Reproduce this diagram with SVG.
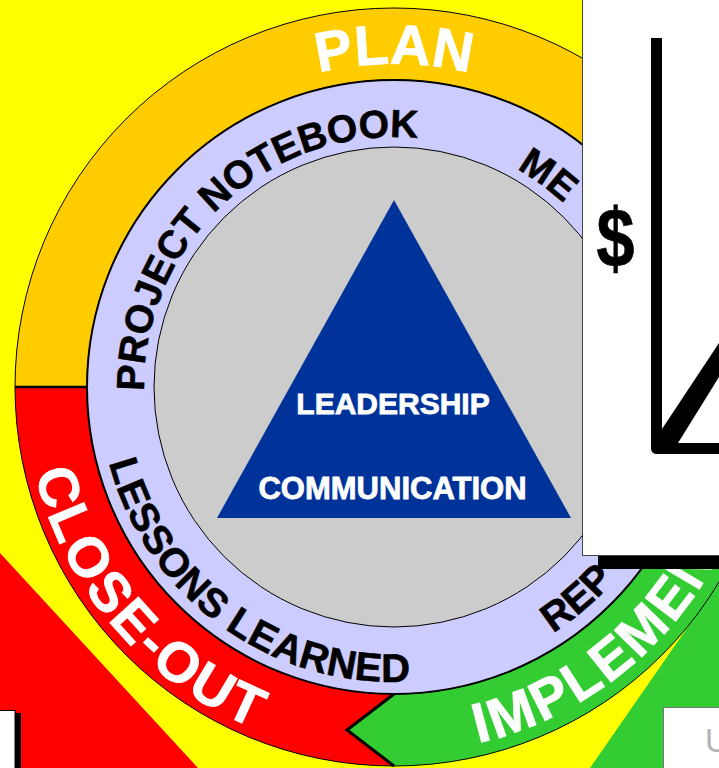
<svg xmlns="http://www.w3.org/2000/svg" width="719" height="768" viewBox="0 0 719 768">
<style>
.t{font-family:"Liberation Sans",Arial,sans-serif;font-weight:bold}
.wt{fill:#fff;stroke:#fff;stroke-width:0.8}
.bk{fill:#000;stroke:#000;stroke-width:0.6}
.band{stroke:#000;stroke-width:1}
</style>
<defs>
<path id="cw323" d="M394,710 A323,323 0 1 1 394,64 A323,323 0 1 1 394,710"/>
<path id="cw250" d="M394,637 A250,250 0 1 1 394,137 A250,250 0 1 1 394,637"/>
<path id="ccw295" d="M394,92 A295,295 0 1 0 394,682 A295,295 0 1 0 394,92"/>
<path id="ccw369" d="M394,18 A369,369 0 1 0 394,756 A369,369 0 1 0 394,18"/>
<path id="ccw293" d="M394,94 A293,293 0 1 0 394,680 A293,293 0 1 0 394,94"/>
<path id="ccw366" d="M394,21 A366,366 0 1 0 394,753 A366,366 0 1 0 394,21"/>
</defs>
<g id="background">
<rect x="0" y="0" width="719" height="768" fill="#FFFF00"/>
<polygon points="0,553 198,768 0,768" fill="#FF0000"/>
<polygon points="719,582 590,768 719,768" fill="#33CC33"/>
</g>
<g id="plan">
<path class="band" d="M15,387 A379,379 0 0 1 773,387 L701,387 A307,307 0 0 0 87,387 Z" fill="#FFCC00"/>
<text class="t wt" font-size="56"><textPath href="#cw323" startOffset="1014.7" text-anchor="middle">PLAN</textPath></text>
</g>
<g id="close-out">
<path class="band" d="M15,387 A379,379 0 0 0 394,766 L394,694 A307,307 0 0 1 87,387 Z" fill="#FF0000"/>
<text class="t wt" font-size="56" letter-spacing="2.4"><textPath href="#ccw369" startOffset="841.7" text-anchor="middle">CLOSE-OUT</textPath></text>
</g>
<g id="implement">
<path class="band" d="M394,694 L347,730 L394,766 A379,379 0 0 0 773,387 L701,387 A307,307 0 0 1 394,694 Z" fill="#33CC33"/>
<text class="t wt" font-size="56" letter-spacing="2.4"><textPath href="#ccw366" startOffset="1234.2">IMPLEMENT</textPath></text>
</g>
<g id="connectors">
<path d="M394,694 L347,730 L394,766" fill="none" stroke="#000" stroke-width="3"/>
<line x1="15" y1="387" x2="87" y2="387" stroke="#000" stroke-width="2.5"/>
</g>
<g id="ring">
<circle cx="394" cy="387" r="307" fill="#CCCCFF" stroke="#000" stroke-width="2"/>
<text class="t bk" font-size="39"><textPath href="#cw250" startOffset="598.9" text-anchor="middle">PROJECT NOTEBOOK</textPath></text>
<text class="t bk" font-size="39"><textPath href="#cw250" startOffset="913">ME</textPath></text>
<text class="t bk" font-size="40" letter-spacing="0.5"><textPath href="#ccw295" startOffset="741.4" text-anchor="middle">LESSONS LEARNED</textPath></text>
<text class="t bk" font-size="40"><textPath href="#ccw293" startOffset="1088">REP</textPath></text>
</g>
<g id="core">
<circle cx="394" cy="387" r="240" fill="#CCCCCC" stroke="#000" stroke-width="1"/>
<polygon points="394,200 217,518 571,518" fill="#003399"/>
<text class="t wt" x="393" y="414" font-size="30" text-anchor="middle">LEADERSHIP</text>
<text class="t wt" x="392.5" y="499" font-size="31" text-anchor="middle">COMMUNICATION</text>
</g>
<g id="chart-box">
<rect x="598" y="556" width="130" height="13" fill="#000"/>
<rect x="582.5" y="-5" width="145" height="560.5" fill="#fff" stroke="#444" stroke-width="1"/>
<path d="M656.5,38 V448.5 H725" fill="none" stroke="#000" stroke-width="11" stroke-linejoin="round"/>
<polygon points="660,432 719,343 719,377 678,443 660,443" fill="#000"/>
<text class="t bk" font-size="72" text-anchor="middle" transform="translate(615.5,267) scale(0.95,1.15)">$</text>
</g>
<g id="left-box">
<rect x="15" y="713" width="6" height="60" fill="#000"/>
<rect x="-5" y="710.5" width="20" height="65" fill="#fff" stroke="#000" stroke-width="1"/>
</g>
<g id="right-box">
<rect x="663.5" y="707.5" width="70" height="70" fill="#fff" stroke="#777" stroke-width="1"/>
<text x="705" y="752" font-family="Liberation Sans, Arial, sans-serif" font-size="33" fill="#B4B4B4">U</text>
</g>
</svg>
